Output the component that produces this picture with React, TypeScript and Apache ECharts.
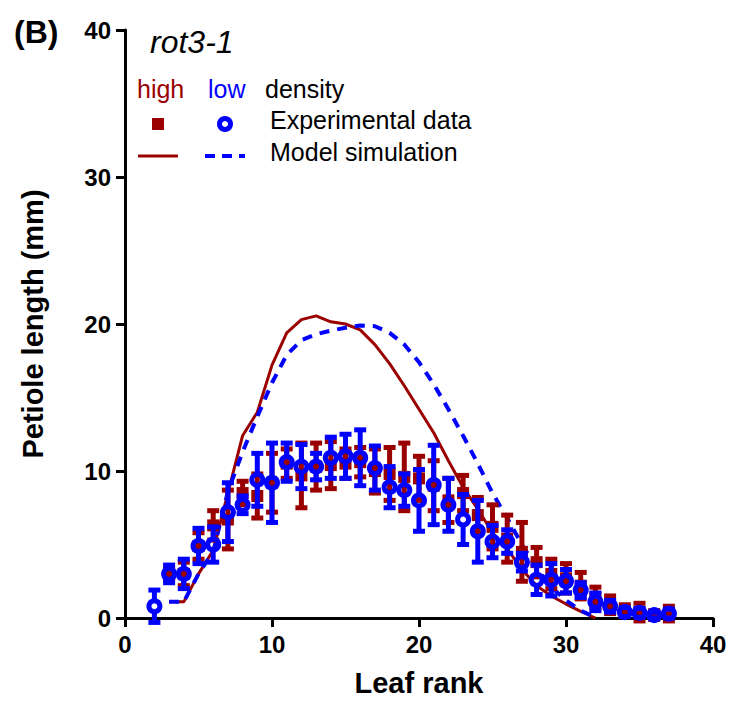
import React, { useEffect, useRef } from "react";
import * as echarts from "echarts";

const RED = "#9b0000";
const BLUE = "#0000ff";
const FONT = "Liberation Sans, Arial, sans-serif";

// Experimental data, low density (blue circles)
const lowRanks = [2, 3, 4, 5, 6, 7, 8, 9, 10, 11, 12, 13, 14, 15, 16, 17, 18, 19, 20, 21, 22, 23, 24, 25, 26, 27, 28, 29, 30, 31, 32, 33, 34, 35, 36, 37];
const lowMean = [0.8, 3.0, 3.0, 4.9, 5.0, 7.2, 7.7, 9.4, 9.2, 10.6, 10.3, 10.3, 10.9, 11.0, 10.9, 10.2, 8.9, 8.7, 8.0, 9.05, 7.7, 6.7, 5.9, 5.2, 5.2, 3.8, 2.6, 2.6, 2.5, 1.9, 1.1, 0.8, 0.4, 0.35, 0.2, 0.3];
const lowErr = [1.1, 0.6, 1.0, 1.2, 1.2, 2.0, 0.6, 1.8, 2.7, 1.3, 1.5, 0.9, 1.4, 1.5, 1.9, 1.5, 1.4, 1.1, 2.1, 2.7, 1.8, 1.7, 2.1, 1.1, 0.8, 0.6, 1.0, 1.1, 0.8, 0.5, 0.6, 0.4, 0.3, 0.3, 0.2, 0.3];

// Experimental data, high density (red squares)
const highRanks = [3, 4, 5, 6, 7, 8, 9, 10, 11, 12, 13, 14, 15, 16, 17, 18, 19, 20, 21, 22, 23, 24, 25, 26, 27, 28, 29, 30, 31, 32, 33, 34, 35, 36, 37];
const highMean = [3.0, 3.0, 4.9, 6.3, 6.7, 8.5, 8.3, 9.2, 10.5, 9.7, 10.3, 10.4, 10.5, 10.6, 10.0, 9.8, 9.6, 9.5, 9.0, 8.0, 8.5, 7.0, 6.2, 5.4, 4.5, 3.8, 3.0, 2.7, 2.2, 1.4, 0.9, 0.5, 0.4, 0.2, 0.3];
const highErr = [0.4, 0.8, 0.9, 1.0, 2.0, 0.8, 1.5, 2.0, 1.0, 2.2, 1.6, 1.6, 1.0, 1.0, 1.5, 1.8, 2.3, 1.5, 1.7, 1.5, 1.2, 1.2, 1.5, 1.6, 2.0, 1.0, 1.0, 1.0, 0.9, 0.7, 0.6, 0.4, 0.6, 0.3, 0.5];

// Model simulation
const modelRanks = [3, 4, 5, 6, 7, 8, 9, 10, 11, 12, 13, 14, 15, 16, 17, 18, 19, 20, 21, 22, 23, 24, 25, 26, 27, 28, 29, 30, 31, 32];
const modelHigh = [1.1, 1.1, 3.0, 4.6, 8.5, 12.4, 14.0, 17.2, 19.4, 20.3, 20.55, 20.15, 20.0, 19.6, 18.6, 17.3, 15.8, 14.2, 12.6, 10.7, 8.9, 7.4, 5.8, 4.7, 3.3, 2.2, 1.5, 0.95, 0.45, 0.0];
const modelLow = [1.1, 1.1, 3.0, 4.5, 8.6, 11.3, 13.7, 16.0, 17.9, 18.9, 19.3, 19.55, 19.75, 19.9, 19.85, 19.4, 18.6, 17.4, 15.9, 14.2, 12.4, 10.5, 8.5, 6.8, 5.0, 3.4, 2.1, 1.2, 0.5, 0.05];

function errorSeries(ranks: number[], mean: number[], err: number[], color: string, gap: number) {
  return {
    type: "custom",
    clip: false,
    z: color === BLUE ? 4 : 2,
    data: ranks.map((r, i) => [r, mean[i] - err[i], mean[i] + err[i], mean[i]]),
    renderItem: (params: any, api: any) => {
      const x = api.value(0);
      const lo = api.coord([x, api.value(1)]);
      const hi = api.coord([x, api.value(2)]);
      const m = api.coord([x, api.value(3)]);
      const cw = 6;
      const style = { stroke: color, lineWidth: 5 };
      const children: any[] = [];
      if (gap > 0) {
        if (m[1] - gap > hi[1]) children.push({ type: "line", shape: { x1: hi[0], y1: hi[1], x2: m[0], y2: m[1] - gap }, style });
        if (m[1] + gap < lo[1]) children.push({ type: "line", shape: { x1: m[0], y1: m[1] + gap, x2: lo[0], y2: lo[1] }, style });
      } else {
        children.push({ type: "line", shape: { x1: hi[0], y1: hi[1], x2: lo[0], y2: lo[1] }, style });
      }
      children.push({ type: "line", shape: { x1: hi[0] - cw, y1: hi[1], x2: hi[0] + cw, y2: hi[1] }, style });
      children.push({ type: "line", shape: { x1: lo[0] - cw, y1: lo[1], x2: lo[0] + cw, y2: lo[1] }, style });
      return { type: "group", children };
    },
  };
}

export default function App() {
  const ref = useRef<HTMLDivElement>(null);
  useEffect(() => {
    const chart = echarts.init(ref.current!, undefined, { renderer: "svg" });
    const axisCommon = {
      type: "value",
      min: 0,
      max: 40,
      interval: 10,
      splitLine: { show: false },
      axisLine: { show: true, lineStyle: { color: "#000", width: 3 } },
      axisTick: { show: true, length: 9, lineStyle: { color: "#000", width: 3 } },
      axisLabel: { color: "#000", fontFamily: FONT, fontWeight: "bold", fontSize: 24 },
      nameLocation: "middle",
      nameTextStyle: { color: "#000", fontFamily: FONT, fontWeight: "bold", fontSize: 29 },
    };
    const option: any = {
      animation: false,
      grid: { left: 125, right: 32, top: 30, bottom: 90, containLabel: false },
      xAxis: { ...axisCommon, name: "Leaf rank", nameGap: 50, axisLabel: { ...axisCommon.axisLabel, margin: 14 } },
      yAxis: { ...axisCommon, name: "Petiole length (mm)", nameGap: 78, axisLabel: { ...axisCommon.axisLabel, margin: 14 } },
      series: [
        {
          type: "line",
          data: modelRanks.map((r, i) => [r, modelHigh[i]]),
          symbol: "none",
          lineStyle: { color: RED, width: 3 },
          z: 1,
        },
        {
          type: "line",
          data: modelRanks.map((r, i) => [r, modelLow[i]]),
          symbol: "none",
          lineStyle: { color: BLUE, width: 4, type: [10, 8] },
          z: 1,
        },
        errorSeries(highRanks, highMean, highErr, RED, 0),
        {
          type: "scatter",
          data: highRanks.map((r, i) => [r, highMean[i]]),
          symbol: "rect",
          symbolSize: 12,
          itemStyle: { color: RED, opacity: 1 },
          z: 3,
        },
        errorSeries(lowRanks, lowMean, lowErr, BLUE, 7),
        {
          type: "scatter",
          data: lowRanks.map((r, i) => [r, lowMean[i]]),
          symbol: "circle",
          symbolSize: 11,
          itemStyle: { color: "rgba(255,255,255,0)", borderColor: BLUE, borderWidth: 5, opacity: 1 },
          z: 5,
        },
      ],
      graphic: [
        { type: "text", left: 14, top: 16, style: { text: "(B)", font: `bold 32px ${FONT}`, fill: "#000" } },
        { type: "text", left: 150, top: 26, style: { text: "rot3-1", font: `italic 32px ${FONT}`, fill: "#000" } },
        { type: "text", left: 137, top: 76, style: { text: "high", font: `25px ${FONT}`, fill: RED } },
        { type: "text", left: 208, top: 76, style: { text: "low", font: `25px ${FONT}`, fill: BLUE } },
        { type: "text", left: 265, top: 76, style: { text: "density", font: `25px ${FONT}`, fill: "#000" } },
        { type: "rect", shape: { x: 152, y: 118, width: 12, height: 12 }, style: { fill: RED } },
        { type: "circle", shape: { cx: 225, cy: 124, r: 5.5 }, style: { fill: "none", stroke: BLUE, lineWidth: 5 } },
        { type: "text", left: 270, top: 107, style: { text: "Experimental data", font: `25px ${FONT}`, fill: "#000" } },
        { type: "line", shape: { x1: 138, y1: 156, x2: 178, y2: 156 }, style: { stroke: RED, lineWidth: 3 } },
        { type: "line", shape: { x1: 205, y1: 156, x2: 245, y2: 156 }, style: { stroke: BLUE, lineWidth: 4, lineDash: [10, 7] } },
        { type: "text", left: 270, top: 139, style: { text: "Model simulation", font: `25px ${FONT}`, fill: "#000" } },
      ],
    };
    chart.setOption(option);
    return () => chart.dispose();
  }, []);
  return <div ref={ref} style={{ width: 745, height: 708, margin: -8 }} />;
}
